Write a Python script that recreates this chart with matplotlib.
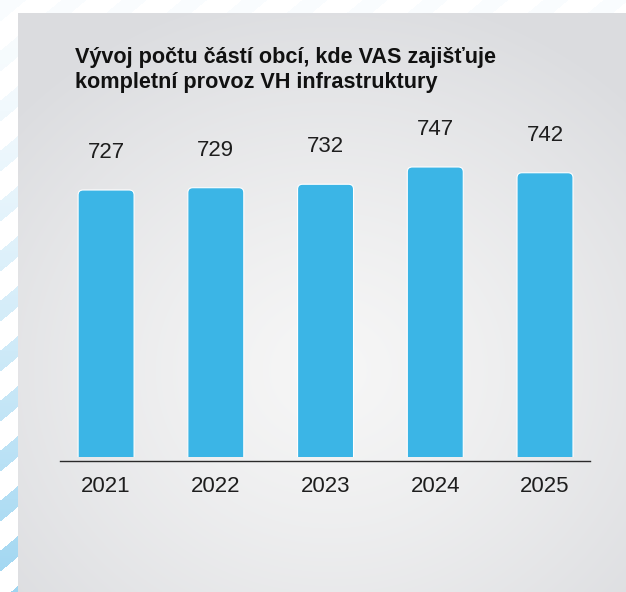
import numpy as np
import matplotlib.pyplot as plt
from matplotlib.patches import FancyBboxPatch

# data
years = ["2021", "2022", "2023", "2024", "2025"]
values = [727, 729, 732, 747, 742]
title_lines = ["Vývoj počtu částí obcí, kde VAS zajišťuje",
               "kompletní provoz VH infrastruktury"]

W, H = 626, 592
bar_color = "#3bb5e6"
text_color = "#1e1e1e"

plt.rcParams["font.family"] = ["Liberation Sans", "DejaVu Sans"]

fig = plt.figure(figsize=(W / 100, H / 100), dpi=100)

# background: white with faded diagonal stripes, then gray radial panel
yy, xx = np.mgrid[0:H, 0:W].astype(float)
img = np.ones((H, W, 3))
stripe = ((yy + 0.83 * xx) % 50) < 21
fade = 0.05 + 0.85 * np.clip(yy / H, 0, 1) ** 1.4
blue = np.array([0.58, 0.82, 0.94])
for c in range(3):
    img[..., c] = np.where(stripe, 1 - fade * (1 - blue[c]), 1.0)
panel = (xx >= 18) & (yy >= 13)
r = np.sqrt(((xx - 330) / 420) ** 2 + ((yy - 370) / 380) ** 2)
r = np.clip(r, 0, 1)
edge = np.array([0.862, 0.866, 0.878])
mid = np.array([0.965, 0.965, 0.965])
for c in range(3):
    g = mid[c] + (edge[c] - mid[c]) * r ** 1.3
    img[..., c] = np.where(panel, g, img[..., c])

bg = fig.add_axes([0, 0, 1, 1], zorder=0)
bg.imshow(img, aspect="auto", interpolation="bilinear")
bg.axis("off")

# main chart axes
ax = fig.add_axes([60 / W, (H - 457) / H, 530 / W, 351 / H], zorder=1)
ax.patch.set_alpha(0)
y0, y1 = 495, 800
ax.set_ylim(y0, y1)
ax.set_xlim(-0.42, len(years) - 1 + 0.41)

bw = 0.51
rx = 0.045
aspect = (110 / 1.0) / (351 / (y1 - y0))
for i, v in enumerate(values):
    p = FancyBboxPatch((i - bw / 2, y0 - 20), bw, v - y0 + 20,
                       boxstyle=f"round,pad=0,rounding_size={rx}",
                       mutation_aspect=aspect,
                       facecolor=bar_color, edgecolor="white", linewidth=0.8)
    ax.add_patch(p)
    ax.annotate(str(v), (i, v), xytext=(0, 27), textcoords="offset points",
                ha="center", va="center", fontsize=16, color=text_color)

for s in ax.spines.values():
    s.set_visible(False)
ax.plot([0, 1], [-0.0123, -0.0123], transform=ax.transAxes, clip_on=False,
        color="#2a2a2a", linewidth=1.0)

ax.set_yticks([])
ax.set_xticks(range(len(years)))
ax.set_xticklabels(years, fontsize=16, color=text_color)
ax.tick_params(axis="x", length=0, pad=14)

fig.text(75 / W, 1 - 63 / H, title_lines[0], fontsize=15.6, fontweight="bold",
         color="#111111", va="baseline", ha="left")
fig.text(75 / W, 1 - 88 / H, title_lines[1], fontsize=15.6, fontweight="bold",
         color="#111111", va="baseline", ha="left")

fig.savefig("out.png", dpi=100)
